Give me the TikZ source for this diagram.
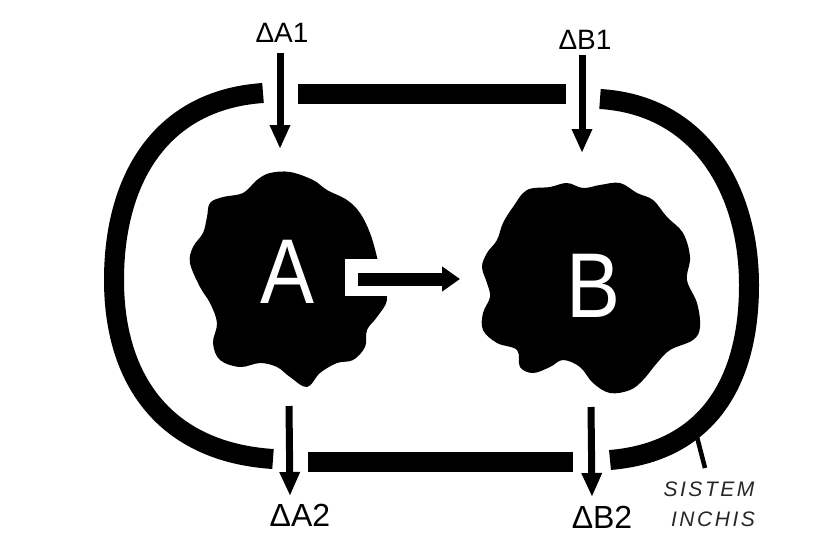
\documentclass[tikz,border=0pt]{standalone}
\usepackage{fontspec}
\setmainfont{Liberation Sans}
\newfontfamily\handfont[LetterSpace=12]{Liberation Sans}
\usetikzlibrary{arrows.meta}
\begin{document}
\begin{tikzpicture}[x=1pt,y=-1pt,
  ring/.style={line width=20pt, black},
  downarrow/.style={line width=7pt, -{Triangle[width=19pt,length=24pt]}},
  midarrow/.style={line width=13pt, -{Triangle[width=24pt,length=18pt]}},
  blob/.style={fill=black},
  lbl/.style={inner sep=0pt, font=\fontsize{28}{30}\selectfont},
  lblb/.style={inner sep=0pt, font=\fontsize{32}{34}\selectfont},
  bigletter/.style={inner sep=0pt, text=white, font=\fontsize{92}{92}\selectfont, xscale=0.88},
  hand/.style={inner sep=0pt, text=black!85, font=\handfont\itshape\fontsize{21}{23}\selectfont},
  pointer/.style={line width=4.5pt, black}]
\useasboundingbox (0,0) rectangle (824,541);
\fill[white] (0,0) rectangle (824,541);

% closed system ring
\draw[ring] (263,93) .. controls (160,100) and (114,180) .. (114,280)
            .. controls (114,380) and (165,452) .. (273,459);
\draw[ring] (298,94) -- (566,94);
\draw[ring] (600,99) .. controls (700,105) and (749,190) .. (749,285)
            .. controls (749,385) and (705,452) .. (610,460);
\draw[ring] (308,462) -- (573,462);

% blob A
\fill[blob] plot[smooth cycle, tension=0.6] coordinates {
 (270,173) (290,172) (313,180) (327,190) (347,200) (360,213) (370,233) (377,257)
 (382,280) (387,300) (377,317) (367,330) (365,347) (353,360) (337,363) (320,373)
 (307,387) (290,377) (277,367) (260,363) (240,367) (220,360) (213,343) (217,323)
 (210,303) (200,287) (190,263) (193,247) (203,233) (207,217) (210,203) (223,197)
 (243,193) (257,180)};
% blob B
\fill[blob] plot[smooth cycle, tension=0.6] coordinates {
 (527,190) (550,187) (567,183) (583,188) (600,185) (620,183) (637,193) (653,200)
 (667,217) (683,233) (690,257) (687,280) (697,303) (700,327) (693,340) (670,350)
 (657,363) (643,380) (630,390) (610,393) (593,383) (580,367) (563,360) (550,367)
 (533,373) (520,367) (517,350) (497,343) (483,330) (483,313) (490,297) (487,283)
 (482,267) (487,253) (497,240) (503,223) (513,207)};

\node[bigletter] (A) at (287,272) {A};
\node[bigletter] (B) at (593,286) {B};

% arrow A -> B with white halo
\fill[white] (345,259) rectangle (392,296);
\coordinate (ab1) at (358,279);
\coordinate (ab2) at (460,279);
\draw[midarrow] (ab1) -- (ab2);

% labels
\node[lbl] (dA1) at (282,33) {ΔA1};
\node[lbl] (dB1) at (585,40) {ΔB1};
\node[lblb] (dA2) at (300,515) {ΔA2};
\node[lblb] (dB2) at (602,517) {ΔB2};

% inflow / outflow arrows
\coordinate (a1s) at (280,53);
\coordinate (a1e) at (280,149);
\coordinate (b1s) at (582,55);
\coordinate (b1e) at (582,153);
\coordinate (a2s) at (289,406);
\coordinate (a2e) at (290,496);
\coordinate (b2s) at (591,407);
\coordinate (b2e) at (592,497);
\draw[downarrow] (a1s) -- (a1e);
\draw[downarrow] (b1s) -- (b1e);
\draw[downarrow] (a2s) -- (a2e);
\draw[downarrow] (b2s) -- (b2e);

% closed system label
\node[hand] (sis) at (709,489) {SISTEM};
\node[hand] (inc) at (713,519) {INCHIS};
\coordinate (p1) at (697,437);
\coordinate (p2) at (705,468);
\draw[pointer] (p1) -- (p2);
\end{tikzpicture}
\end{document}
